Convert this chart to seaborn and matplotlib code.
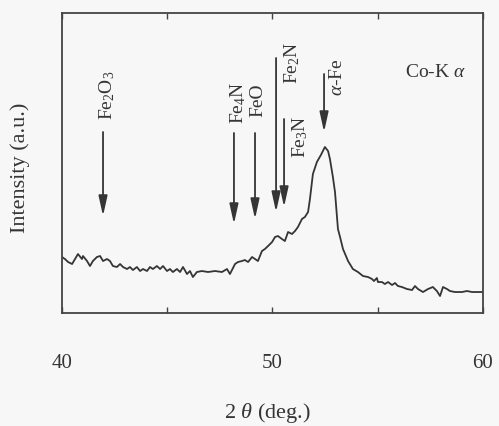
import matplotlib
matplotlib.use("Agg")
import matplotlib.pyplot as plt
import seaborn as sns
import pandas as pd

# XRD pattern (Co-Kα), 2θ in degrees and intensity in arbitrary units
two_theta = [
    40.00, 40.14, 40.29, 40.48, 40.62, 40.76, 40.95, 41.00, 41.19, 41.33,
    41.47, 41.66, 41.81, 41.95, 42.14, 42.28, 42.42, 42.61, 42.76, 42.90,
    43.09, 43.23, 43.37, 43.56, 43.71, 43.85, 44.04, 44.18, 44.32, 44.51,
    44.66, 44.80, 44.99, 45.13, 45.27, 45.46, 45.61, 45.75, 45.94, 46.08,
    46.22, 46.41, 46.65, 46.94, 47.27, 47.60, 47.84, 47.98, 48.22, 48.36,
    48.55, 48.69, 48.84, 49.03, 49.17, 49.31, 49.50, 49.64, 49.79, 49.98,
    50.12, 50.26, 50.45, 50.59, 50.74, 50.93, 51.07, 51.21, 51.40, 51.54,
    51.69, 51.78, 51.92, 52.11, 52.30, 52.49, 52.64, 52.73, 52.87, 52.97,
    53.11, 53.21, 53.35, 53.59, 53.82, 54.06, 54.30, 54.54, 54.73, 54.82,
    54.96, 55.01, 55.20, 55.34, 55.49, 55.68, 55.82, 55.96, 56.15, 56.39,
    56.63, 56.77, 56.91, 57.15, 57.39, 57.62, 57.81, 57.96, 58.10, 58.29,
    58.43, 58.67, 59.00, 59.24, 59.48, 59.62, 60.00,
]
intensity = [
    56, 54, 51, 49, 54, 59, 54, 57, 52, 47,
    52, 56, 57, 52, 54, 52, 47, 46, 49, 46,
    44, 46, 43, 46, 42, 44, 42, 46, 44, 47,
    44, 47, 42, 44, 41, 44, 41, 46, 39, 42,
    36, 41, 42, 41, 42, 41, 44, 39, 49, 51,
    52, 53, 51, 56, 54, 52, 62, 64, 67, 71,
    76, 77, 74, 72, 81, 79, 82, 86, 94, 96,
    101, 114, 139, 151, 158, 166, 162, 154, 136, 121,
    84, 76, 64, 52, 44, 41, 37, 36, 34, 32,
    35, 31, 31, 29, 31, 28, 30, 27, 26, 24,
    23, 27, 24, 21, 24, 26, 22, 17, 26, 24,
    22, 21, 21, 22, 21, 21, 21,
]

# Reference reflection positions of candidate phases
phases = ["Fe$_2$O$_3$", "Fe$_4$N", "FeO", "Fe$_2$N", "Fe$_3$N", r"$\alpha$-Fe"]
phase_pos = [41.95, 48.17, 49.17, 50.17, 50.55, 52.45]
arrow_top = [181, 180, 180, 255, 194, 239]
arrow_tip = [97, 89, 94, 101, 106, 181]
label_x = [42.14, 48.36, 49.31, 50.93, 51.31, 53.11]
label_y = [219, 211, 214, 251, 177, 237]

x_ticks = [40, 50, 60]
x_minor = [45, 55]

sns.set_style("ticks")
plt.rcParams["font.family"] = ["Liberation Serif", "DejaVu Serif"]
plt.rcParams["mathtext.fontset"] = "custom"
plt.rcParams["mathtext.rm"] = "Liberation Serif"
plt.rcParams["mathtext.it"] = "Liberation Serif:italic"

ink = "#353535"
bg = "#f7f7f7"

fig = plt.figure(figsize=(4.99, 4.27), dpi=100, facecolor=bg)
ax = fig.add_axes([0.1242, 0.2646, 0.8437, 0.7026], facecolor=bg)

df = pd.DataFrame({"two_theta": two_theta, "intensity": intensity})
sns.lineplot(data=df, x="two_theta", y="intensity", ax=ax,
             color=ink, lw=1.3, errorbar=None)

ax.set_xlim(40, 60)
ax.set_ylim(0, 300)

for sp in ax.spines.values():
    sp.set_color("#444444")
    sp.set_linewidth(1.3)

ax.set_xticks(x_ticks)
ax.set_xticks(x_minor, minor=True)
ax.set_xticklabels([str(t) for t in x_ticks])
ax.tick_params(axis="x", which="both", direction="in", top=True,
               length=4, width=1.0, color="#444444")
ax.tick_params(axis="x", which="major", pad=29, labelsize=15, labelcolor=ink)
ax.set_yticks([])

ax.set_xlabel(r"2 $\theta$ (deg.)", fontsize=16, color=ink)
ax.xaxis.set_label_coords(0.487, -0.33)
ax.xaxis.label.set_va("center")
ax.set_ylabel("Intensity (a.u.)", fontsize=16, color=ink)
ax.yaxis.set_label_coords(-0.10, 0.487)
ax.yaxis.label.set_va("center")

for name, px, top, tip, lx, ly in zip(phases, phase_pos, arrow_top, arrow_tip,
                                       label_x, label_y):
    ax.annotate("", xy=(px, tip), xytext=(px, top),
                arrowprops=dict(arrowstyle="-|>,head_length=1.0,head_width=0.22",
                                mutation_scale=12, lw=1.3, color=ink,
                                shrinkA=0, shrinkB=0))
    ax.text(lx, ly, name, rotation=90, ha="center", va="center",
            fontsize=14, color=ink)

ax.text(57.72, 242, r"Co-K $\alpha$", ha="center", va="center",
        fontsize=14, color=ink)

fig.savefig("out.png", dpi=100, facecolor=bg)
